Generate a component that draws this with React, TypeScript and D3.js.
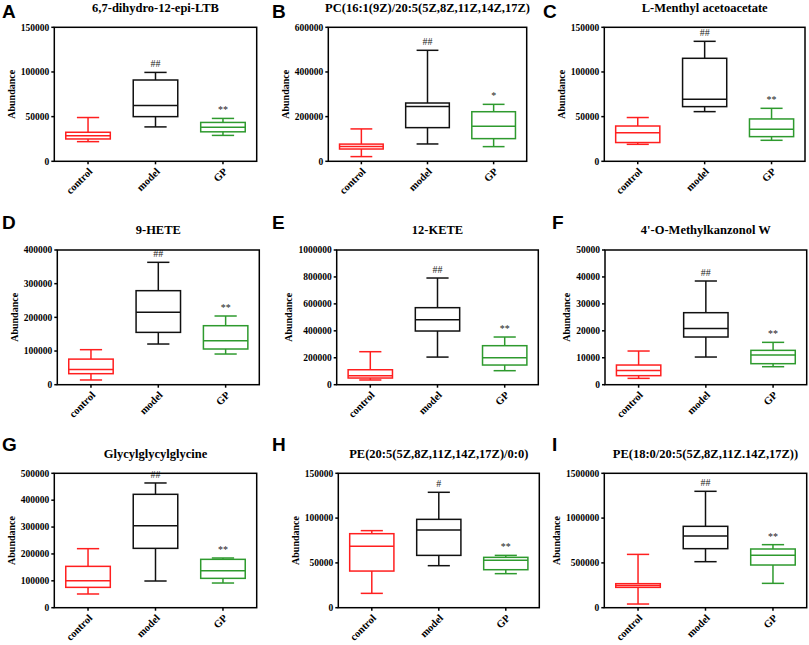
import React from "react";
import * as d3 from "d3";

// ---------- data ----------
const groups = ["control", "model", "GP"];
const panelLetters = ["A", "B", "C", "D", "E", "F", "G", "H", "I"];
const titles = [
  "6,7-dihydro-12-epi-LTB",
  "PC(16:1(9Z)/20:5(5Z,8Z,11Z,14Z,17Z)",
  "L-Menthyl acetoacetate",
  "9-HETE",
  "12-KETE",
  "4'-O-Methylkanzonol W",
  "Glycylglycylglycine",
  "PE(20:5(5Z,8Z,11Z,14Z,17Z)/0:0)",
  "PE(18:0/20:5(5Z,8Z,11Z.14Z,17Z))",
];
const yMax = [150000, 600000, 150000, 400000, 1000000, 50000, 500000, 150000, 1500000];
const yStep = [50000, 200000, 50000, 100000, 200000, 10000, 100000, 50000, 500000];

// five-number summaries: [min, q1, median, q3, max]
const controlStats = [
  [22000, 25000, 28500, 32500, 49000],
  [21000, 55000, 66000, 77000, 145000],
  [19000, 21000, 32000, 39500, 49000],
  [14000, 32700, 45500, 76000, 104000],
  [35000, 49500, 67000, 111000, 245000],
  [2350, 3350, 5300, 7300, 12500],
  [51000, 75700, 100500, 153800, 219600],
  [16000, 40900, 68500, 82600, 86000],
  [41000, 227000, 249000, 268000, 595000],
];
const modelStats = [
  [38500, 50000, 62500, 91000, 99500],
  [77600, 150700, 245000, 261000, 497000],
  [55600, 61200, 69400, 115300, 134300],
  [120800, 155400, 215000, 279200, 363400],
  [205000, 398500, 482700, 571800, 792000],
  [10270, 17700, 20900, 26730, 38490],
  [99300, 220800, 305200, 421800, 464000],
  [46900, 58400, 86700, 98600, 128800],
  [513600, 658800, 800200, 908200, 1299000],
];
const gpStats = [
  [29000, 33000, 38000, 43500, 48000],
  [65700, 101500, 156700, 222000, 255000],
  [23500, 27600, 35800, 47400, 59300],
  [91100, 106000, 130700, 175200, 204000],
  [104000, 146000, 200500, 289600, 354000],
  [6680, 7800, 11010, 12750, 15720],
  [91800, 109200, 137700, 179900, 184900],
  [38000, 42400, 52900, 56200, 58400],
  [271700, 476400, 584400, 655100, 703500],
];
const modelMarks = ["##", "##", "##", "##", "##", "##", "##", "#", "##"];
const gpMarks = ["**", "*", "**", "**", "**", "**", "**", "**", "**"];
const groupColors = ["#ff1f1f", "#111111", "#2e9a2e"];

// ---------- layout ----------
const frameLeft = [54.3, 328.3, 604.3, 57.3, 336.7, 605, 54.3, 338.3, 604.3];
const frameRight = [256.7, 526.7, 805, 259.3, 538.3, 806.7, 256.7, 539.3, 806.7];
const rowTop = [27.3, 250, 473.3];
const rowBottom = [161.3, 384.7, 607.7];
const rowLetterBase = [18, 229, 451];
const rowTitleBase = [12, 234, 458];
const colLetterX = [2, 272, 543];
const serif = "'Liberation Serif', 'Times New Roman', serif";
const sans = "'Liberation Sans', Arial, sans-serif";

function Panel({ i }: { i: number }) {
  const row = Math.floor(i / 3);
  const col = i % 3;
  const left = frameLeft[i];
  const right = frameRight[i];
  const top = rowTop[row];
  const bottom = rowBottom[row];
  const x = d3.scaleBand<string>().domain(groups).range([left, right]).paddingInner(0).paddingOuter(0);
  const y = d3.scaleLinear().domain([0, yMax[i]]).range([bottom, top]);
  const ticks = d3.range(0, yMax[i] + 1, yStep[i]);
  const bw = x.bandwidth() * 0.66;
  const stats = [controlStats[i], modelStats[i], gpStats[i]];
  const marks = ["", modelMarks[i], gpMarks[i]];
  const maxLabelLen = d3.max(ticks, (t) => String(t).length) as number;
  const labelX = left - 5 - maxLabelLen * 4.75 - 6;
  return (
    <g>
      <text x={colLetterX[col] + (col === 2 && row > 0 ? 9 : 0)} y={rowLetterBase[row]} fontFamily={sans} fontWeight="bold" fontSize={19} fill="#000">
        {panelLetters[i]}
      </text>
      <text x={(left + right) / 2} y={rowTitleBase[row]} textAnchor="middle" fontFamily={serif} fontWeight="bold" fontSize={12.5} fill="#000">
        {titles[i]}
      </text>
      <text
        transform={`translate(${labelX},${(top + bottom) / 2}) rotate(-90)`}
        textAnchor="middle"
        fontFamily={serif}
        fontWeight="bold"
        fontSize={10}
        fill="#000"
      >
        Abundance
      </text>
      {ticks.map((t) => (
        <g key={t}>
          <line x1={left - 3} x2={left} y1={y(t)} y2={y(t)} stroke="#000" strokeWidth={1.5} />
          <text x={left - 5} y={y(t)} dy="0.34em" textAnchor="end" fontFamily={serif} fontWeight="bold" fontSize={9.5} fill="#000">
            {t}
          </text>
        </g>
      ))}
      {groups.map((g) => {
        const cx = (x(g) as number) + x.bandwidth() / 2;
        return (
          <g key={g}>
            <line x1={cx} x2={cx} y1={bottom} y2={bottom + 3} stroke="#000" strokeWidth={1.5} />
            <text
              transform={`translate(${cx + 5},${bottom + 11}) rotate(-45)`}
              textAnchor="end"
              fontFamily={serif}
              fontWeight="bold"
              fontSize={10.5}
              fill="#000"
            >
              {g}
            </text>
          </g>
        );
      })}
      {groups.map((g, gi) => {
        const [mn, q1, md, q3, mx] = stats[gi];
        const cx = (x(g) as number) + x.bandwidth() / 2;
        const c = groupColors[gi];
        const cap = bw / 2;
        return (
          <g key={g} stroke={c} strokeWidth={1.5} fill="none">
            <line x1={cx} x2={cx} y1={y(mx)} y2={y(q3)} />
            <line x1={cx} x2={cx} y1={y(q1)} y2={y(mn)} />
            <line x1={cx - cap / 2} x2={cx + cap / 2} y1={y(mx)} y2={y(mx)} />
            <line x1={cx - cap / 2} x2={cx + cap / 2} y1={y(mn)} y2={y(mn)} />
            <rect x={cx - bw / 2} y={y(q3)} width={bw} height={y(q1) - y(q3)} />
            <line x1={cx - bw / 2} x2={cx + bw / 2} y1={y(md)} y2={y(md)} />
            {marks[gi] && (
              <text x={cx} y={y(mx) - 5} textAnchor="middle" fontFamily={serif} fontSize={10} fill="#222" stroke="none">
                {marks[gi]}
              </text>
            )}
          </g>
        );
      })}
      <rect x={left} y={top} width={right - left} height={bottom - top} fill="none" stroke="#000" strokeWidth={1.5} />
    </g>
  );
}

export default function App() {
  return (
    <svg width={809} height={645} style={{ position: "absolute", left: 0, top: 0, background: "#fff" }}>
      <rect width={809} height={645} fill="#fff" />
      {panelLetters.map((_, i) => (
        <Panel key={i} i={i} />
      ))}
    </svg>
  );
}
